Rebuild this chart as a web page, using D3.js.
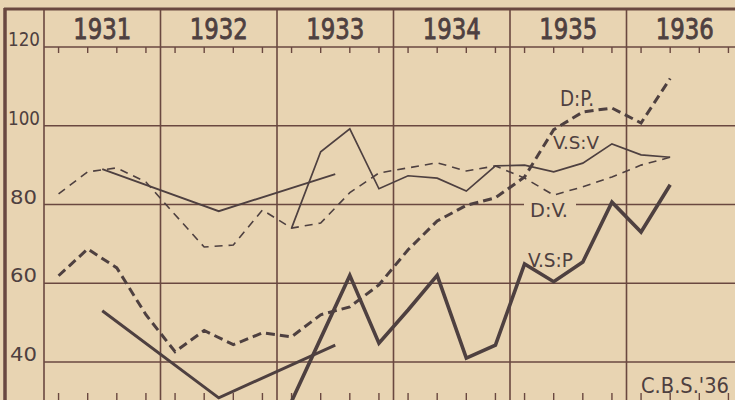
<!DOCTYPE html>
<html>
<head>
<meta charset="utf-8">
<script src="https://cdn.jsdelivr.net/npm/d3@7"></script>
<style>
  body { margin: 0; background: #e8d4b2; }
  svg { display: block; }
  .hand { font-family: "DejaVu Sans Condensed", "DejaVu Sans", sans-serif; font-stretch: condensed; fill: #4e4040; }
</style>
</head>
<body>
<div id="chart"></div>
<script>
// years across the header
var years = [1931, 1932, 1933, 1934, 1935, 1936];
var yTicks = [40, 60, 80, 100, 120];

// quarterly values, 1931 Q1 .. 1936 Q2
var dP = [61.9, 68.7, 63.9, 52, 42.6, 48, 44.4, 47.4, 46.4, 52, 54, 59.6, 68.5, 75.8, 79.8, 81.7, 87, 99, 103.5, 104.5, 100.7, 112];
var dV = [82.7, 88.3, 89.3, 85.7, 77.4, 69.2, 69.7, 78.6, 74, 75.3, 83, 88, 89.3, 90.6, 88.5, 89.8, 86.7, 82.4, 84.5, 87, 90, 92];
var vsV = [null, null, null, null, null, null, null, null, 74, 93.4, 99.2, 84, 87.3, 86.7, 83.4, 89.8, 90, 88.3, 90.5, 95.4, 92.6, 92];
var vsP = [null, null, null, null, null, null, null, null, 30, 46, 62, 44.8, 53.2, 62, 41, 44.3, 64.9, 60.4, 65.4, 80.6, 73, 85];

// yearly averages 1931-1933, plotted mid-year
var avgYears = [1931, 1932, 1933];
var vsVYear = [89, 78.3, 87.7];
var vsPYear = [53, 30.9, 44.3];

var svgWidth = 735;
var svgHeight = 400;
var ink = "#4e4040";
var grid = "#6a4840";
var paper = "#e8d4b2";

var svg = d3.select("#chart")
  .append("svg")
  .attr("width", svgWidth)
  .attr("height", svgHeight);

svg.append("rect")
  .attr("width", svgWidth)
  .attr("height", svgHeight)
  .attr("fill", paper);

var x = d3.scaleLinear()
  .domain([1931, 1937])
  .range([44, 743]);

var y = d3.scaleLinear()
  .domain([40, 120])
  .range([362, 47]);

function qx(i) { return x(1931 + (i + 0.5) / 4); }

// frame
svg.append("line").attr("x1", 5).attr("x2", 5).attr("y1", 8).attr("y2", 400)
  .attr("stroke", grid).attr("stroke-width", 3.5);
svg.append("line").attr("x1", 4).attr("x2", 735).attr("y1", 9).attr("y2", 9)
  .attr("stroke", grid).attr("stroke-width", 3);

// horizontal grid
svg.append("g").selectAll("line").data(yTicks).enter()
  .append("line")
  .attr("x1", x(1931))
  .attr("x2", svgWidth)
  .attr("y1", d => y(d))
  .attr("y2", d => y(d))
  .attr("stroke", grid)
  .attr("stroke-width", 1.6);

// year dividers
svg.append("g").selectAll("line").data(years).enter()
  .append("line")
  .attr("x1", d => x(d))
  .attr("x2", d => x(d))
  .attr("y1", 9)
  .attr("y2", 400)
  .attr("stroke", grid)
  .attr("stroke-width", 1.6);

// quarter ticks, top and bottom
var qs = d3.range(24);
svg.append("g").selectAll("line").data(qs).enter()
  .append("line")
  .attr("x1", d => qx(d)).attr("x2", d => qx(d))
  .attr("y1", y(120)).attr("y2", y(120) + 6)
  .attr("stroke", grid).attr("stroke-width", 1.4);
svg.append("g").selectAll("line").data(qs).enter()
  .append("line")
  .attr("x1", d => qx(d)).attr("x2", d => qx(d))
  .attr("y1", 393).attr("y2", 400)
  .attr("stroke", grid).attr("stroke-width", 1.4);

// year labels
svg.append("g").selectAll("text").data(years).enter()
  .append("text")
  .attr("class", "hand")
  .attr("x", d => x(d + 0.5) - 29)
  .attr("y", 39)
  .attr("font-size", "29px")
  .attr("stroke", ink)
  .attr("stroke-width", 0.8)
  .attr("textLength", 58)
  .attr("lengthAdjust", "spacingAndGlyphs")
  .text(d => d);

// y labels
svg.append("g").selectAll("text").data(yTicks).enter()
  .append("text")
  .attr("class", "hand")
  .attr("x", d => d >= 100 ? 8 : 10)
  .attr("y", d => y(d) - 1)
  .attr("font-size", "19px")
  .attr("textLength", d => d >= 100 ? 32 : 27)
  .attr("lengthAdjust", "spacingAndGlyphs")
  .text(d => d);

var line = d3.line()
  .defined(d => d.v != null)
  .x(d => d.x)
  .y(d => y(d.v));

function quarterly(arr) { return arr.map((v, i) => ({x: qx(i), v: v})); }
function yearly(arr) { return arr.map((v, i) => ({x: x(avgYears[i] + 0.5), v: v})); }

// D:V thin dashed
svg.append("path").attr("d", line(quarterly(dV)))
  .attr("fill", "none").attr("stroke", ink).attr("stroke-width", 1.6)
  .attr("stroke-dasharray", "8,6");

// V.S:V thin solid
svg.append("path").attr("d", line(quarterly(vsV)))
  .attr("fill", "none").attr("stroke", ink).attr("stroke-width", 1.7);
svg.append("path").attr("d", line(yearly(vsVYear)))
  .attr("fill", "none").attr("stroke", ink).attr("stroke-width", 1.9);

// D:P thick dashed
svg.append("path").attr("d", line(quarterly(dP)))
  .attr("fill", "none").attr("stroke", ink).attr("stroke-width", 3)
  .attr("stroke-dasharray", "9,5");

// V.S:P thick solid
svg.append("path").attr("d", line(quarterly(vsP)))
  .attr("fill", "none").attr("stroke", ink).attr("stroke-width", 3.6)
  .attr("stroke-linejoin", "miter");
svg.append("path").attr("d", line(yearly(vsPYear)))
  .attr("fill", "none").attr("stroke", ink).attr("stroke-width", 3);

// series labels
svg.append("rect").attr("x", 524).attr("y", 198).attr("width", 52).attr("height", 20).attr("fill", paper);
var labels = [
  {t: "D:P.", x: 560, y: 106, s: 21, w: 34},
  {t: "V.S:V", x: 553, y: 149, s: 18, w: 46},
  {t: "D:V.", x: 530, y: 217, s: 19, w: 38},
  {t: "V.S:P", x: 528, y: 267, s: 19, w: 45},
  {t: "C.B.S.'36", x: 641, y: 393, s: 22, w: 88}
];
svg.append("g").selectAll("text").data(labels).enter()
  .append("text")
  .attr("class", "hand")
  .attr("x", d => d.x)
  .attr("y", d => d.y)
  .attr("font-size", d => d.s + "px")
  .attr("textLength", d => d.w)
  .attr("lengthAdjust", "spacingAndGlyphs")
  .text(d => d.t);
</script>
</body>
</html>
